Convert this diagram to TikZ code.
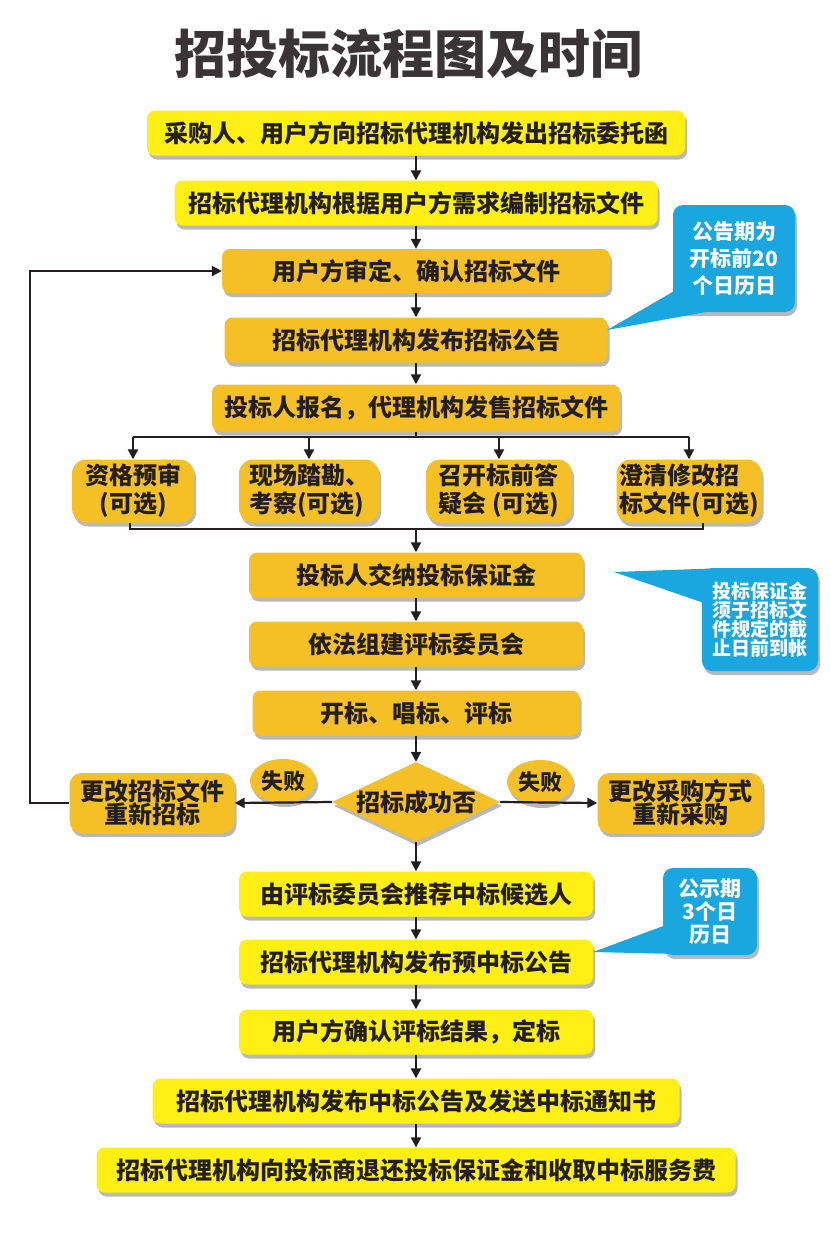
\documentclass[tikz,border=0pt]{standalone}
\usepackage{fontspec}
\setmainfont{Noto Sans CJK SC}
\usetikzlibrary{shapes.geometric,arrows.meta,shadows}
\definecolor{ylw}{HTML}{FFEF14}
\definecolor{org}{HTML}{F5C026}
\definecolor{blu}{HTML}{1AA6DF}
\definecolor{ink}{HTML}{231F20}
\begin{document}
\begin{tikzpicture}[x=1pt,y=-1pt,
  shad/.style={drop shadow={shadow xshift=2pt,shadow yshift=-4pt,opacity=0.28,fill=black}},
  box/.style={rounded corners=8pt, inner sep=0pt, align=center, text=ink,
    font=\bfseries\fontsize{24}{28}\selectfont, shad},
  ybox/.style={box, fill=ylw},
  obox/.style={box, fill=org},
  arr/.style={line width=2.2pt, draw=ink, -{Triangle[length=10pt,width=10pt]}},
  ln/.style={line width=2.2pt, draw=ink},
  callbox/.style={rounded corners=10pt, fill=blu, inner sep=0pt, text=white, align=center, shad},
  tail/.style={fill=blu, draw=none},
]
\useasboundingbox (0,0) rectangle (830,1250);
\fill[white] (0,0) rectangle (830,1250);

% title
\node[font=\bfseries\fontsize{52}{58}\selectfont, text=ink!90] (title) at (408,54) {招投标流程图及时间};

% main column
\node[ybox, minimum width=538pt, minimum height=45pt] (b1) at (416,133) {采购人、用户方向招标代理机构发出招标委托函};
\node[ybox, minimum width=483pt, minimum height=45pt] (b2) at (416,203) {招标代理机构根据用户方需求编制招标文件};
\node[obox, minimum width=388pt, minimum height=44pt] (b3) at (416,271) {用户方审定、确认招标文件};
\node[obox, minimum width=383pt, minimum height=45pt] (b4) at (416,340) {招标代理机构发布招标公告};
\node[obox, minimum width=408pt, minimum height=47pt] (b5) at (416,408) {投标人报名，代理机构发售招标文件};

% optional boxes
\node[obox, minimum width=122pt, minimum height=63pt, rounded corners=14pt] (o1) at (133,491) {资格预审\\(可选)};
\node[obox, minimum width=140pt, minimum height=63pt, rounded corners=14pt, align=left] (o2) at (309,491) {现场踏勘、\\考察(可选)};
\node[obox, minimum width=146pt, minimum height=63pt, rounded corners=14pt, align=left] (o3) at (499,491) {召开标前答\\疑会 (可选)};
\node[obox, minimum width=145pt, minimum height=63pt, rounded corners=14pt, align=left] (o4) at (689,491) {澄清修改招\\标文件(可选)};

\node[obox, minimum width=334pt, minimum height=45pt] (b7) at (416,575) {投标人交纳投标保证金};
\node[obox, minimum width=334pt, minimum height=45pt] (b8) at (416,644) {依法组建评标委员会};
\node[obox, minimum width=327pt, minimum height=45pt] (b9) at (416,713) {开标、唱标、评标};

% decision
\node[diamond, fill=org, inner sep=0pt, minimum width=168pt, minimum height=80pt, shad] (d) at (416,802) {};
\node[font=\bfseries\fontsize{24}{28}\selectfont, text=ink] (dt) at (416,802) {招标成功否};

\node[obox, minimum width=165pt, minimum height=60pt, rounded corners=12pt] (fl) at (152,803) {更改招标文件\\[-5pt]重新招标};
\node[obox, minimum width=165pt, minimum height=60pt, rounded corners=12pt] (fr) at (680,803) {更改采购方式\\[-5pt]重新采购};

\node[ellipse, fill=org, inner sep=0pt, minimum width=66pt, minimum height=44pt, text=ink,
  font=\bfseries\fontsize{22}{26}\selectfont, shad] (f1) at (283,781) {失败};
\node[ellipse, fill=org, inner sep=0pt, minimum width=66pt, minimum height=44pt, text=ink,
  font=\bfseries\fontsize{22}{26}\selectfont, shad] (f2) at (540,782) {失败};

\node[ybox, minimum width=354pt, minimum height=45pt] (b15) at (416,894) {由评标委员会推荐中标候选人};
\node[ybox, minimum width=354pt, minimum height=45pt] (b16) at (416,962) {招标代理机构发布预中标公告};
\node[ybox, minimum width=354pt, minimum height=45pt] (b17) at (416,1032) {用户方确认评标结果，定标};
\node[ybox, minimum width=527pt, minimum height=45pt] (b18) at (416,1101) {招标代理机构发布中标公告及发送中标通知书};
\node[ybox, minimum width=639pt, minimum height=45pt] (b19) at (416,1170) {招标代理机构向投标商退还投标保证金和收取中标服务费};

% connectors
\draw[arr] (b1) -- (b2);
\draw[arr] (b2) -- (b3);
\draw[arr] (b3) -- (b4);
\draw[arr] (b4) -- (b5);
\coordinate (br) at (416,437);
\draw[ln] (b5.south) -- (br);
\draw[ln] (o1.north |- br) -- (o4.north |- br);
\draw[arr] (o1.north |- br) -- (o1.north);
\draw[arr] (o2.north |- br) -- (o2.north);
\draw[arr] (o3.north |- br) -- (o3.north);
\draw[arr] (o4.north |- br) -- (o4.north);
\coordinate (mg) at (416,529);
\coordinate (mgl) at (130,529);
\coordinate (mgr) at (703,529);
\draw[ln] (mgl |- o1.south) -- (mgl) -- (mgr) -- (mgr |- o4.south);
\draw[arr] (mg) -- (b7);
\draw[arr] (b7) -- (b8);
\draw[arr] (b8) -- (b9);
\draw[arr] (b9) -- (d);
\draw[arr] (d.west) -- (fl.east);
\draw[arr] (d.east) -- (fr.west);
\coordinate (lp) at (30,803);
\draw[arr] (fl.west) -- (lp) |- (b3.west);
\draw[arr] (d.south) -- (b15);
\draw[arr] (b15) -- (b16);
\draw[arr] (b16) -- (b17);
\draw[arr] (b17) -- (b18);
\draw[arr] (b18) -- (b19);

% callouts
\node[callbox, minimum width=122pt, minimum height=107pt,
  font=\bfseries\fontsize{21}{27}\selectfont] (ca) at (734,258.5) {公告期为\\开标前20\\个日历日};
\coordinate (cat) at (607,330);
\fill[tail] (cat) -- (676,290) -- (706,312) -- cycle;

\node[callbox, minimum width=116pt, minimum height=103pt,
  font=\bfseries\fontsize{19}{19}\selectfont] (cb) at (760,619.5) {投标保证金\\须于招标文\\件规定的截\\止日前到帐};
\coordinate (cbt) at (614,572);
\fill[tail] (cbt) -- (712,568.5) -- (704,603) -- cycle;

\node[callbox, minimum width=94pt, minimum height=87pt,
  font=\bfseries\fontsize{21}{23}\selectfont] (cc) at (710,911.5) {公示期\\3个日\\历日};
\coordinate (cct) at (593,952);
\fill[tail] (cct) -- (666,925) -- (697,954.5) -- cycle;
\end{tikzpicture}
\end{document}
